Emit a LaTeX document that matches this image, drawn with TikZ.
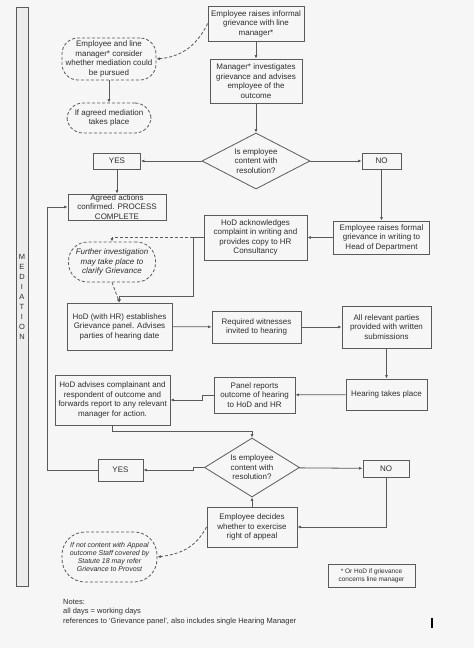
\documentclass[tikz,border=0pt]{standalone}
\usepackage{fontspec}
\setmainfont{Liberation Sans}
\usetikzlibrary{shapes.geometric, arrows.meta, positioning}
\definecolor{edge}{HTML}{5A5A5A}
\definecolor{ink}{HTML}{2E2E2E}
\definecolor{paper}{HTML}{F6F6F6}

\begin{document}
\begin{tikzpicture}[x=1pt, y=-1pt,
  box/.style={rectangle, draw=edge, line width=0.8pt, text=ink, font=\fontsize{8}{9.5}\selectfont, align=center, inner sep=1pt},
  dec/.style={diamond, draw=edge, line width=0.8pt, text=ink, font=\fontsize{8}{9.5}\selectfont, align=center, aspect=2, inner sep=0pt},
  bubble/.style={rectangle, rounded corners=16pt, draw=edge, line width=0.8pt, dash pattern=on 3pt off 2pt, text=ink, font=\fontsize{8}{9.5}\selectfont, align=center, inner sep=1pt},
  arr/.style={draw=edge, line width=0.8pt, -{Latex[length=3.5pt,width=3pt]}},
  darr/.style={arr, dash pattern=on 3pt off 2pt},
]
\fill[paper] (0,0) rectangle (474,648);
\useasboundingbox (0,0) rectangle (474,648);

\node[rectangle, draw=edge, line width=0.8pt, fill=black!7, text=ink, font=\fontsize{7.5}{10}\selectfont, align=center, minimum width=12pt, minimum height=579pt, inner sep=0pt] (medbar) at (22,296.5) {M\\E\\D\\I\\A\\T\\I\\O\\N};

% informal stage
\node[box, minimum width=96pt, minimum height=35pt] (informal) at (256,23.5) {Employee raises informal\\grievance with line\\manager*};
\node[box, minimum width=92pt, minimum height=44pt] (manager) at (256,81) {Manager* investigates\\grievance and advises\\employee of the\\outcome};
\node[dec, minimum width=108pt, minimum height=56pt] (content1) at (256,161) {Is employee\\content with\\resolution?};
\node[box, minimum width=47pt, minimum height=16pt] (yes1) at (117,161) {YES};
\node[box, minimum width=39pt, minimum height=16pt] (no1) at (381.5,161) {NO};
\node[box, minimum width=98pt, minimum height=26pt, inner sep=0pt] (agreed) at (117,207) {Agreed actions\\confirmed. PROCESS\\COMPLETE};

\node[bubble, minimum width=94pt, minimum height=42pt] (consider) at (109,59) {Employee and line\\manager*  consider\\whether mediation could\\be pursued};
\node[bubble, minimum width=84pt, minimum height=30pt] (mediation) at (109,118) {If agreed mediation\\takes place};

% formal stage
\node[box, minimum width=96pt, minimum height=33pt] (formal) at (381.5,237.5) {Employee raises formal\\grievance in writing to\\Head of Department};
\node[box, minimum width=103pt, minimum height=45pt] (acknow) at (255.5,237.5) {HoD acknowledges\\complaint in writing and\\provides copy to HR\\Consultancy};
\node[bubble, rounded corners=19pt, minimum width=87pt, minimum height=40pt, font=\fontsize{8}{9.5}\selectfont\itshape] (further) at (112,262) {Further investigation\\may take place to\\clarify Grievance};
\node[box, minimum width=105pt, minimum height=47pt] (panel) at (119.5,326.5) {HoD (with HR) establishes\\Grievance panel. Advises\\parties of hearing date};
\node[box, minimum width=89pt, minimum height=32pt] (witness) at (256.5,327) {Required witnesses\\invited to hearing};
\node[box, minimum width=89pt, minimum height=42pt] (submit) at (386.5,327) {All relevant parties\\provided with written\\submissions};
\node[box, minimum width=81pt, minimum height=31pt] (hearing) at (386.5,394.5) {Hearing takes place};
\node[box, minimum width=81pt, minimum height=36pt] (report) at (254.5,395) {Panel reports\\outcome of hearing\\to HoD and HR};
\node[box, minimum width=115pt, minimum height=50pt] (advise) at (112.5,400) {HoD advises complainant and\\respondent  of outcome  and\\forwards report to any relevant\\manager for action.};

% appeal stage
\node[dec, minimum width=95pt, minimum height=59pt] (content2) at (252,467.5) {Is employee\\content with\\resolution?};
\node[box, minimum width=45pt, minimum height=22pt] (yes2) at (120.5,470) {YES};
\node[box, minimum width=46pt, minimum height=17pt] (no2) at (386,468.5) {NO};
\node[box, minimum width=90pt, minimum height=40pt] (appeal) at (252,527) {Employee decides\\whether to exercise\\right of appeal};
\node[bubble, rounded corners=23pt, minimum width=95pt, minimum height=50pt, font=\fontsize{7}{8}\selectfont\itshape] (provost) at (109.5,557) {If not content with Appeal\\outcome Staff covered by\\Statute 18 may refer\\Grievance to Provost};

\node[box, minimum width=87pt, minimum height=23pt, font=\fontsize{6.5}{7.7}\selectfont] (footnote) at (371.5,575.5) {* Or HoD if grievance\\concerns line manager};
\node[anchor=north west, align=left, inner sep=0pt, text=ink, font=\fontsize{7.5}{9.5}\selectfont] (notes) at (63,599) {Notes:\\all days = working days\\references to ‘Grievance panel’, also includes single Hearing Manager};
\draw[line width=1.2pt, black] (432,618) -- (432,628);

\coordinate (split) at (193,237.5);

\draw[arr] (informal) -- (manager);
\draw[darr] (informal.west) .. controls +(-12,25) and +(22,-2) .. (consider.east);
\draw[arr] (consider) -- (mediation);
\draw[arr] (manager) -- (content1);
\draw[arr] (content1) -- (yes1);
\draw[arr] (content1) -- (no1);
\draw[arr] (yes1) -- (agreed);
\draw[arr] (no1) -- (formal);
\draw[arr] (formal) -- (acknow);
\draw[arr] (acknow.west) -- (split) -- ++(0,58.5) -| (panel.north);
\draw[darr] (split) -| (further.north);
\draw[darr] (further.south) -- (panel.north);
\draw[arr] (panel) -- (witness);
\draw[arr] (witness) -- (submit);
\draw[arr] (submit) -- (hearing);
\draw[arr] (hearing) -- (report);
\draw[arr] (report.west) -- ++(-11,0) |- (advise.east);
\draw[arr] (advise.south) -- ++(0,6) -| (content2.north);
\draw[arr] (content2.west) -- ++(-11,0) |- (yes2.east);
\draw[arr] (yes2.west) -- ++(-50,0) |- (agreed.west);
\draw[arr] (content2) -- (no2);
\draw[arr] (no2.south) |- (appeal.east);
\draw[arr] (appeal) -- (content2);
\draw[darr] (appeal.west) .. controls +(-12,22) and +(22,-3) .. (provost.east);
\end{tikzpicture}
\end{document}
